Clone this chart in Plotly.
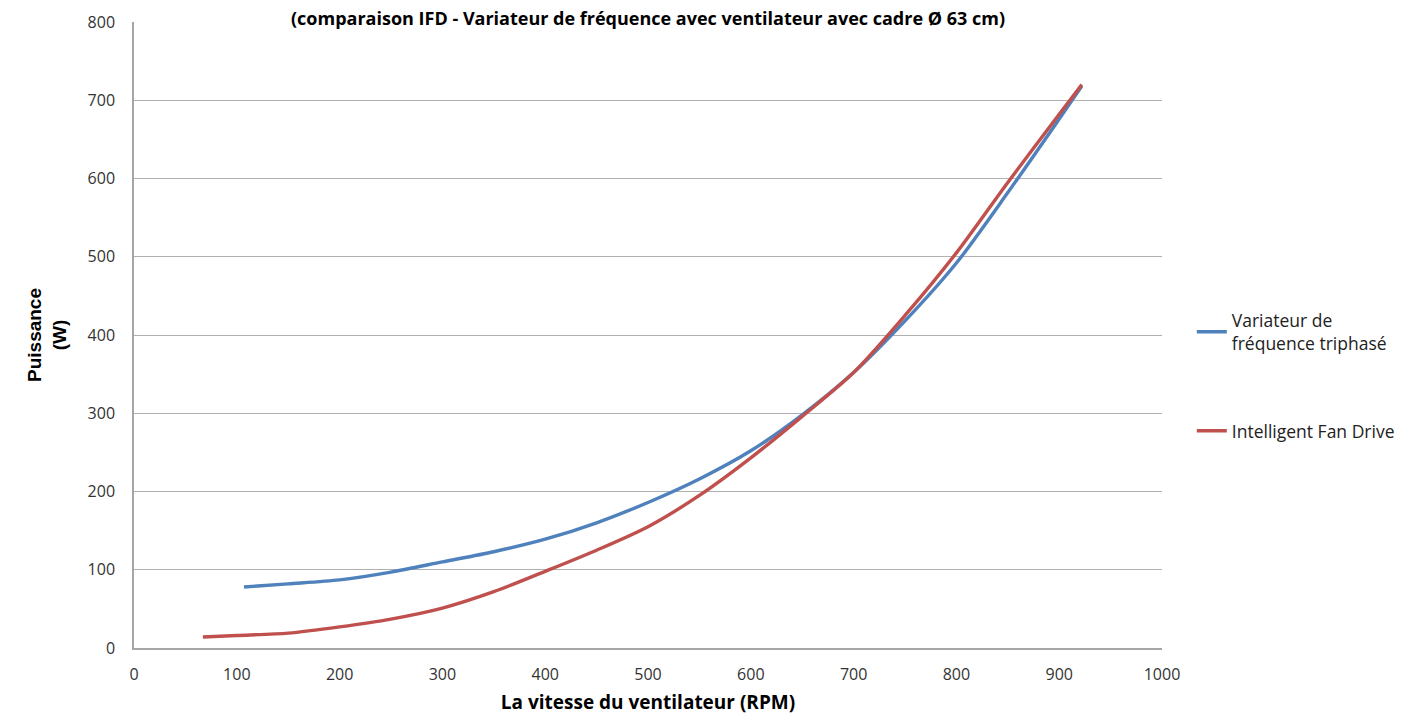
import plotly.graph_objects as go

# Data
rpm_vfd = [107, 150, 200, 250, 300, 350, 400, 450, 500, 550, 600, 650, 700, 750, 800, 850, 900, 922]
pw_vfd = [78, 82, 87, 97, 110, 123, 139, 160, 186, 216, 252, 298, 352, 418, 492, 582, 676, 718]

rpm_ifd = [67, 100, 150, 200, 250, 300, 350, 400, 450, 500, 550, 600, 650, 700, 750, 800, 850, 900, 922]
pw_ifd = [14, 16, 19, 27, 37, 51, 72, 98, 125, 155, 195, 243, 296, 352, 425, 505, 595, 682, 720]

x_ticks = [0, 100, 200, 300, 400, 500, 600, 700, 800, 900, 1000]
y_ticks = [0, 100, 200, 300, 400, 500, 600, 700, 800]

name_vfd = "Variateur de<br>fréquence triphasé"
name_ifd = "Intelligent Fan Drive"
title_text = "(comparaison IFD - Variateur de fréquence avec ventilateur avec cadre Ø 63 cm)"

fig = go.Figure()
fig.add_trace(go.Scatter(x=rpm_vfd, y=pw_vfd, mode="lines", name=name_vfd,
                         line=dict(color="#4F81BD", width=3.4, shape="spline", smoothing=0.8),
                         legendgroup="a"))
fig.add_trace(go.Scatter(x=rpm_ifd, y=pw_ifd, mode="lines", name=name_ifd,
                         line=dict(color="#C0504D", width=3.4, shape="spline", smoothing=0.8),
                         legendgroup="b"))

font_fam = "Liberation Sans Narrow, Open Sans, Arial, sans-serif"

fig.update_layout(
    width=1409, height=707,
    paper_bgcolor="white", plot_bgcolor="white",
    margin=dict(l=126, r=255, t=14, b=67),
    title=dict(text="<b>" + title_text + "</b>", x=0.5, xref="paper", xanchor="center",
               y=0.994, yref="container", yanchor="top", pad=dict(t=0, b=0),
               font=dict(family=font_fam, size=18, color="#000000")),
    showlegend=True,
    legend=dict(x=1.029, y=0.552, xanchor="left", yanchor="top",
                font=dict(family="Open Sans, sans-serif", size=17.5, color="#222222"),
                tracegroupgap=62, traceorder="grouped", itemwidth=30,
                bgcolor="rgba(0,0,0,0)"),
    xaxis=dict(range=[0, 1000], tickvals=x_ticks, showgrid=False, zeroline=False,
               showline=True, linecolor="#A6A6A6", linewidth=1.5, automargin=False,
               ticks="", tickfont=dict(family=font_fam, size=16, color="#333333"),
               ticklabelstandoff=11,
               title=dict(text="<b>La vitesse du ventilateur (RPM)</b>", standoff=12,
                          font=dict(family=font_fam, size=19, color="#000000"))),
    yaxis=dict(range=[0, 800], tickvals=y_ticks, showgrid=True, gridcolor="#B0B0B0", gridwidth=1.2,
               zeroline=False, showline=True, linecolor="#A6A6A6", linewidth=1.5, automargin=False,
               ticks="", tickfont=dict(family=font_fam, size=16, color="#333333"),
               ticklabelstandoff=14,
               title=dict(text="<b>Puissance<br>(W)</b>", standoff=16,
                          font=dict(family="Liberation Sans, Arial, sans-serif", size=19, color="#000000"))),
)

fig.write_html("out.html")
